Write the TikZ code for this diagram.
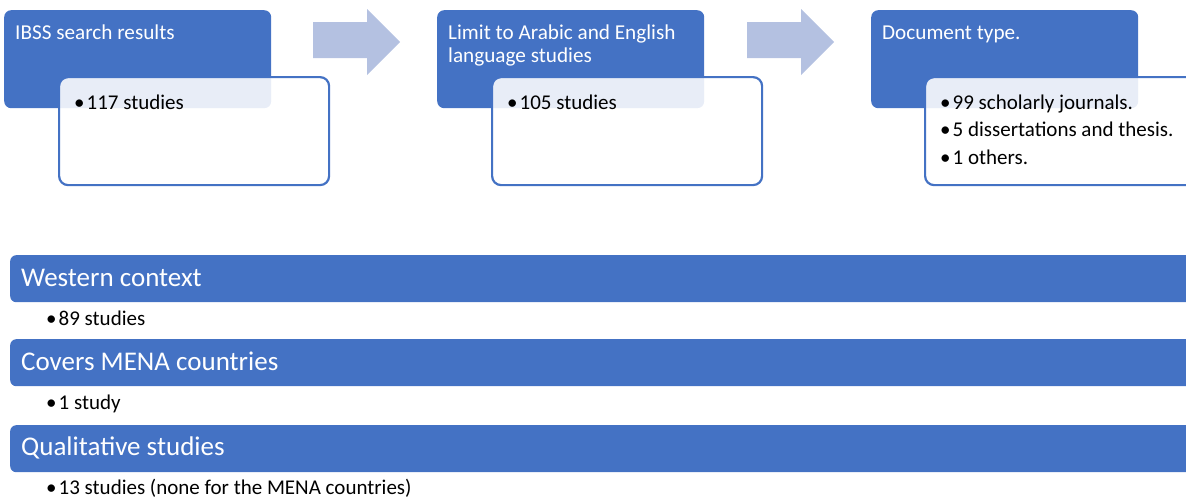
\documentclass[tikz,border=0pt]{standalone}
\usepackage{fontspec}
\setmainfont{Carlito}
\usetikzlibrary{positioning}
\definecolor{darkblue}{HTML}{4472C4}
\definecolor{paleblue}{HTML}{B4C1E1}
\newcommand{\itembullet}{•\kern2pt}

\begin{document}
\begin{tikzpicture}[x=1pt, y=-1pt,
	title/.style = {anchor=north west, fill=darkblue, rounded corners=7pt,
		minimum width=267pt, minimum height=98pt, inner sep=0pt},
	detail/.style = {anchor=north west, draw=darkblue, line width=2.2pt,
		fill=white, fill opacity=0.88, rounded corners=9pt,
		minimum width=270pt, minimum height=108pt, inner sep=0pt},
	headtext/.style = {anchor=base west, inner sep=0pt, text=white, align=left,
		font=\fontsize{21.2}{23}\selectfont},
	itemtext/.style = {anchor=base west, inner sep=0pt, align=left,
		font=\fontsize{21}{27.5}\selectfont},
	bar/.style = {anchor=north west, fill=darkblue, rounded corners=6pt,
		minimum width=1200pt, minimum height=47pt, inner sep=0pt},
	bartext/.style = {anchor=base west, inner sep=0pt, text=white,
		font=\fontsize{27}{30}\selectfont},
	subtext/.style = {anchor=base west, inner sep=0pt,
		font=\fontsize{21}{25}\selectfont},
	blockarrow/.style = {fill=paleblue}]
	\useasboundingbox (0,0) rectangle (1186,499);
	\clip (0,0) rectangle (1186,499);

	% top row
	\node[title] (search) at (4,10) {};
	\node[detail] (searchlist) at (58,76) {};
	\node[headtext] (searchhead) at (15,39) {IBSS search results};
	\node[itemtext] (searchitem) at (74,109) {\itembullet 117 studies};

	\node[title] (language) at (437,10) {};
	\node[detail] (languagelist) at (491,76) {};
	\node[headtext] (languagehead) at (448,62) {Limit to Arabic and English\\language studies};
	\node[itemtext] (languageitem) at (507,109) {\itembullet 105 studies};

	\node[title] (doctype) at (871,10) {};
	\node[detail] (doctypelist) at (924,76) {};
	\node[headtext] (doctypehead) at (882,39) {Document type.};
	\node[itemtext] (doctypeitem) at (940,164) {\itembullet 99 scholarly journals.\\\itembullet 5 dissertations and thesis.\\\itembullet 1 others.};

	% arrows between the steps
	\fill[blockarrow] (313,22) -- (367,22) -- (367,9) -- (400,42) -- (367,75) -- (367,58) -- (313,58) -- cycle;
	\fill[blockarrow] (747,22) -- (801,22) -- (801,9) -- (834,42) -- (801,75) -- (801,58) -- (747,58) -- cycle;

	% bottom bars
	\node[bar] (western) at (10,255) {};
	\node[bartext] (westernhead) at (21,286) {Western context};
	\node[subtext] (westernitem) at (46,325) {\itembullet 89 studies};

	\node[bar] (mena) at (10,339) {};
	\node[bartext] (menahead) at (21,370.5) {Covers MENA countries};
	\node[subtext] (menaitem) at (46,409) {\itembullet 1 study};

	\node[bar] (qualitative) at (10,425) {};
	\node[bartext] (qualitativehead) at (21,455.5) {Qualitative studies};
	\node[subtext] (qualitativeitem) at (46,494) {\itembullet 13 studies (none for the MENA countries)};
\end{tikzpicture}
\end{document}
